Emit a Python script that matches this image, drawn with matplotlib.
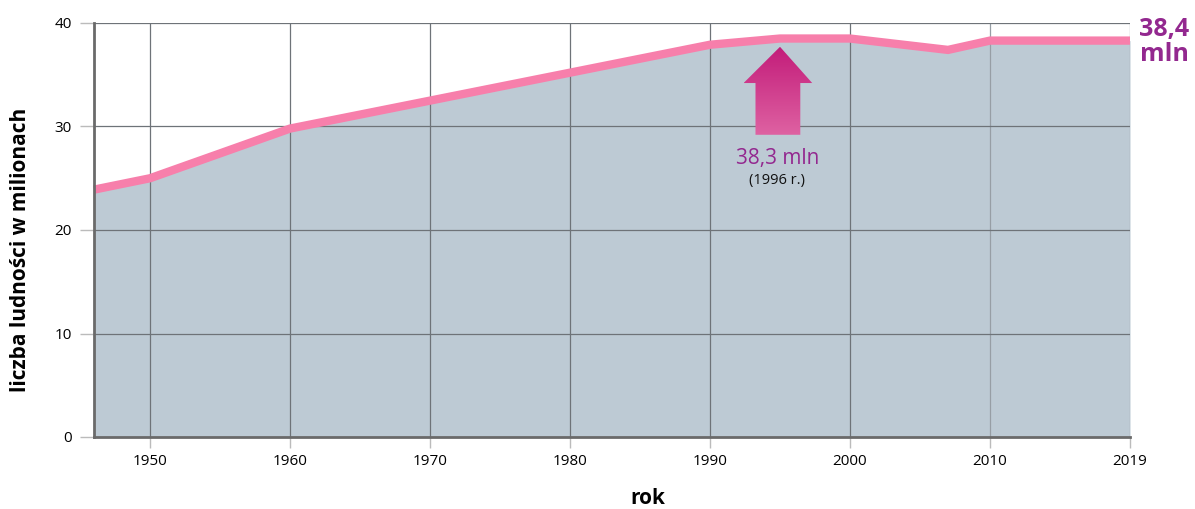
import matplotlib
matplotlib.use("Agg")
import matplotlib.pyplot as plt
import numpy as np
from matplotlib.patches import Polygon
from matplotlib.colors import LinearSegmentedColormap

plt.rcParams['font.family'] = ['Open Sans', 'DejaVu Sans']

years = [1946, 1950, 1960, 1970, 1980, 1990, 1995, 2000, 2007, 2010, 2020]
population = [23.9, 25.0, 29.8, 32.5, 35.2, 37.9, 38.5, 38.5, 37.4, 38.3, 38.3]
tick_pos = [1950, 1960, 1970, 1980, 1990, 2000, 2010, 2020]
tick_labels = ["1950", "1960", "1970", "1980", "1990", "2000", "2010", "2019"]
y_ticks = [0, 10, 20, 30, 40]
peak_label = "38,3 mln"
peak_year = "(1996 r.)"
end_label = "38,4\nmln"

fig = plt.figure(figsize=(11.95, 5.09), dpi=100)
ax = fig.add_axes([94/1195, 1 - 437/509, (1130-94)/1195, (437-23)/509])

ax.fill_between(years, population, 0, color="#bdcad4", zorder=1, lw=0)

for x in tick_pos:
    c = "#6e7378" if x < 2010 else "#979ea5"
    ax.axvline(x, color=c, lw=0.9, zorder=2)
for y in y_ticks[1:]:
    ax.axhline(y, color="#6e7378", lw=0.9, zorder=2)

ax.plot(years, population, color="#f77fab", lw=6, solid_joinstyle="miter",
        solid_capstyle="butt", zorder=4, clip_on=False)

ax.set_xticks(tick_pos)
ax.set_xticklabels(tick_labels, fontsize=11)
ax.set_yticks(y_ticks)
ax.set_yticklabels([str(v) for v in y_ticks], fontsize=11)
ax.tick_params(axis='x', length=8, color="#bbbbbb", width=1, pad=4)
ax.tick_params(axis='y', length=10, color="#bbbbbb", width=1, pad=6)

for s in ["top", "right"]:
    ax.spines[s].set_visible(False)
for s in ["left", "bottom"]:
    ax.spines[s].set_color("#6a6a6a")
    ax.spines[s].set_linewidth(2)
    ax.spines[s].set_zorder(5)

ax.set_ylabel("liczba ludności w milionach", fontsize=15, fontweight="bold")
ax.yaxis.set_label_coords((31 - 94) / 1036, (437 - 250) / 414)
fig.text(648 / 1195, 1 - 499 / 509, "rok", fontsize=15, fontweight="bold",
         ha="center", va="center")

# gradient arrow
ax_x = 1995
arrow_pts = np.array([
    [ax_x, 37.7], [ax_x + 2.3, 34.2], [ax_x + 1.45, 34.2], [ax_x + 1.45, 29.2],
    [ax_x - 1.75, 29.2], [ax_x - 1.75, 34.2], [ax_x - 2.6, 34.2]])
poly = Polygon(arrow_pts, closed=True, facecolor="none", edgecolor="none")
ax.add_patch(poly)
grad = np.linspace(0, 1, 256).reshape(-1, 1)
cmap = LinearSegmentedColormap.from_list("g", ["#c31c7a", "#de62a2"])
im = ax.imshow(grad, extent=[ax_x - 2.6, ax_x + 2.3, 29.2, 37.7], cmap=cmap,
               aspect="auto", zorder=3, origin="upper")
im.set_clip_path(poly)
ax.set_xlim(1946, 2020)
ax.set_ylim(0, 40)

ax.text(ax_x - 0.2, 26.9, peak_label, color="#93288f", fontsize=15, ha="center", va="center", zorder=6)
ax.text(ax_x - 0.2, 24.8, peak_year, color="#111111", fontsize=10.5, ha="center", va="center", zorder=6)

fig.text(1164/1195, 1 - 42/509, end_label, color="#93288f", fontsize=18, fontweight="bold",
         ha="center", va="center", linespacing=0.95)

fig.savefig("out.png", dpi=100)
